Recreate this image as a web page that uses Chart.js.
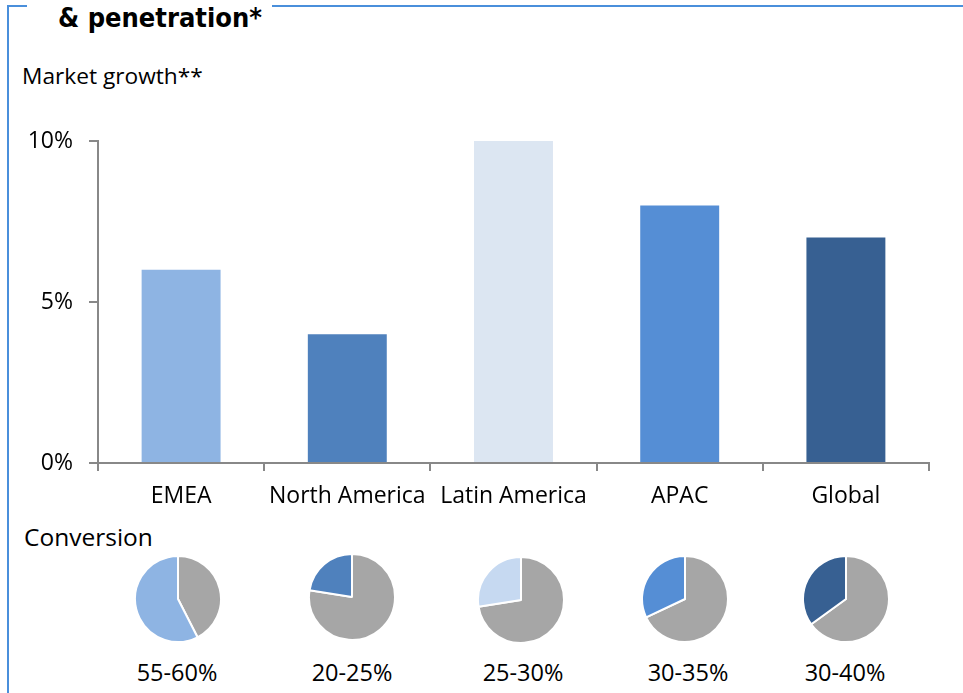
<!DOCTYPE html>
<html>
<head>
<meta charset="utf-8">
<script src="https://cdn.jsdelivr.net/npm/chart.js@4.4.1/dist/chart.umd.min.js"></script>
<style>
  html, body { margin: 0; padding: 0; background: #fff; }
  #wrap { position: relative; width: 963px; height: 693px; overflow: hidden; background: #fff;
          font-family: 'Open Sans', sans-serif; color: #000; }
  .line { position: absolute; background: #4A8FDB; }
  .txt { position: absolute; white-space: nowrap; line-height: 1; }
  #title { left: 58px; top: 4px; font-family: 'DejaVu Sans Condensed', 'DejaVu Sans', sans-serif;
           font-stretch: condensed; font-weight: bold; font-size: 27px; }
  #growth { left: 22px; top: 65px; font-size: 22.7px; }
  #conv { left: 24px; top: 525px; font-size: 24.5px; }
  .pie { position: absolute; }
  .plabel { position: absolute; font-size: 23.5px; width: 120px; text-align: center; line-height: 1; }
</style>
</head>
<body>
<div id="wrap">
  <div class="line" style="left:7px; top:5px; width:2px; height:700px;"></div>
  <div class="line" style="left:7px; top:5px; width:20px; height:2px;"></div>
  <div class="line" style="left:272px; top:5px; width:700px; height:2px;"></div>
  <div class="txt" id="title">&amp; penetration*</div>
  <div class="txt" id="growth">Market growth**</div>
  <div class="txt" id="conv">Conversion</div>
  <canvas id="bar" style="position:absolute; left:0; top:110px;"></canvas>
</div>
<script>
const categories = ['EMEA', 'North America', 'Latin America', 'APAC', 'Global'];
const growthValues = [6, 4, 10, 8, 7];
const barColors = ['#8EB4E3', '#4F81BD', '#DCE6F2', '#558ED5', '#376092'];
const yTickValues = [0, 5, 10];
const conversionShare = [57.5, 22.5, 27.5, 32, 35];
const conversionLabels = ['55-60%', '20-25%', '25-30%', '30-35%', '30-40%'];
const pieColors = ['#8EB4E3', '#4F81BD', '#C6D9F1', '#558ED5', '#376092'];
const restColor = '#A6A6A6';

const pieCenters = [[178, 599], [352, 597], [521, 600], [685, 599], [846, 599]];
const labelCenters = [[177, 673], [352, 673], [523, 673], [688, 673], [845, 673]];

const axisColor = '#888888';
const fontFamily = "'Open Sans', sans-serif";

const barCanvas = document.getElementById('bar');
barCanvas.width = 963; barCanvas.height = 410;
new Chart(barCanvas, {
  type: 'bar',
  data: {
    labels: categories,
    datasets: [{ data: growthValues, backgroundColor: barColors, borderWidth: 0,
                 barPercentage: 0.475, categoryPercentage: 1 }]
  },
  options: {
    responsive: false, animation: false,
    layout: { padding: { top: 31, right: 34, left: 0, bottom: 0 } },
    plugins: { legend: { display: false }, tooltip: { enabled: false } },
    scales: {
      x: {
        grid: { drawOnChartArea: false, drawTicks: true, tickLength: 8, color: axisColor, lineWidth: 2, offset: true },
        border: { color: axisColor, width: 2 },
        ticks: { color: '#000', font: { family: fontFamily, size: 23 }, padding: 12, maxRotation: 0, autoSkip: false },
        afterFit: s => { s.height = 57; }
      },
      y: {
        min: 0, max: 10,
        afterBuildTicks: s => { s.ticks = yTickValues.map(v => ({ value: v })); },
        grid: { drawOnChartArea: false, drawTicks: true, tickLength: 9, color: axisColor, lineWidth: 2 },
        border: { color: axisColor, width: 2 },
        ticks: { color: '#000', font: { family: fontFamily, size: 23 }, padding: 16, callback: v => v + '%' },
        afterFit: s => { s.width = 98; }
      }
    }
  }
});

const wrap = document.getElementById('wrap');
conversionShare.forEach((share, i) => {
  const size = 88;
  const c = document.createElement('canvas');
  c.className = 'pie';
  c.width = size; c.height = size;
  c.style.left = (pieCenters[i][0] - size / 2) + 'px';
  c.style.top = (pieCenters[i][1] - size / 2) + 'px';
  wrap.appendChild(c);
  new Chart(c, {
    type: 'pie',
    data: { labels: ['Other', categories[i]],
            datasets: [{ data: [100 - share, share], backgroundColor: [restColor, pieColors[i]],
                         borderColor: '#fff', borderWidth: 2 }] },
    options: { responsive: false, animation: false,
               plugins: { legend: { display: false }, tooltip: { enabled: false } } }
  });
  const l = document.createElement('div');
  l.className = 'plabel';
  l.textContent = conversionLabels[i];
  l.style.left = (labelCenters[i][0] - 60) + 'px';
  l.style.top = (labelCenters[i][1] - 12) + 'px';
  wrap.appendChild(l);
});
</script>
</body>
</html>
